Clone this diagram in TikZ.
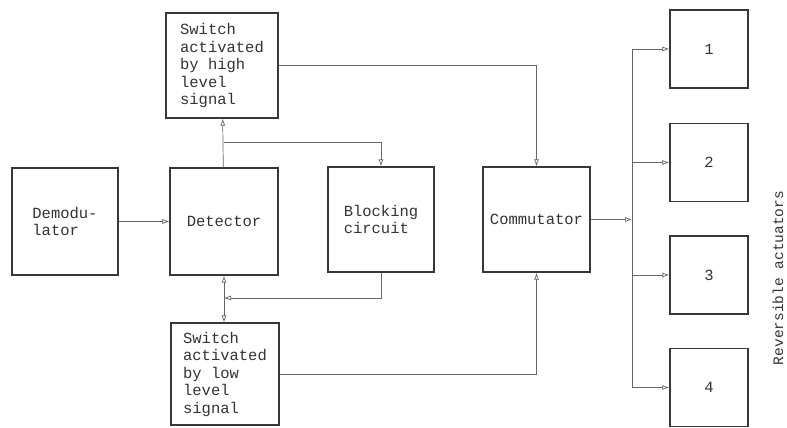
\documentclass[tikz,border=0pt]{standalone}
\usepackage{fontspec}
\setmainfont{Liberation Mono}
\usetikzlibrary{arrows.meta}
\tikzset{
  blk/.style={draw=black!78, line width=1.3pt, rectangle, inner sep=0pt, text=black!80,
    font=\fontsize{15.5}{17.5}\selectfont, align=left},
  act/.style={blk, minimum width=78pt, minimum height=78pt},
  conn/.style={draw=black!60, line width=0.7pt},
  arr/.style={conn, -{Latex[length=7pt,width=5pt,open]}},
}
\begin{document}
\begin{tikzpicture}[x=1pt,y=-1pt]
\useasboundingbox (0,0) rectangle (787,428);
% boxes
\node[blk, minimum width=106pt, minimum height=107pt] (dem) at (65,221.5) {Demodu-\\lator};
\node[blk, minimum width=108pt, minimum height=107pt] (det) at (224,221.5) {Detector};
\node[blk, minimum width=112pt, minimum height=105pt] (swh) at (222,65.5) {Switch\\activated\\by high\\level\\signal};
\node[blk, minimum width=106pt, minimum height=105pt] (blc) at (381,219.5) {Blocking\\circuit};
\node[blk, minimum width=107pt, minimum height=105pt] (com) at (536.5,219.5) {Commutator};
\node[blk, minimum width=108pt, minimum height=102pt] (swl) at (225,374) {Switch\\activated\\by low\\level\\signal};
\node[act] (a1) at (709,49) {1};
\node[act] (a2) at (709,162.5) {2};
\node[act] (a3) at (709,275) {3};
\node[act] (a4) at (709,387.5) {4};
\node[text=black!80, font=\fontsize{14.5}{16}\selectfont, rotate=90] (lab) at (778,278) {Reversible actuators};
% junction coordinates
\coordinate (j1) at (224,142);
\coordinate (j2) at (224,298);
\coordinate (bus) at (632,219.5);
\coordinate (bt) at (632,49);
\coordinate (bb) at (632,387.5);
% connectors
\draw[arr] (dem) -- (det);
\draw[arr] (det) -- (swh);
\draw[arr] (j1) -| (blc.north);
\draw[arr] (swh.east) -| (com.north);
\draw[conn, {Latex[length=7pt,width=5pt,open]}-{Latex[length=7pt,width=5pt,open]}] (det.south) -- (det.south |- swl.north);
\draw[arr] (blc.south) |- (j2);
\draw[arr] (swl.east) -| (com.south);
\draw[arr] (com.east) -- (bus);
\draw[conn] (bt) -- (bb);
\draw[arr] (bt) -- (a1.west);
\draw[arr] (bus |- a2.west) -- (a2.west);
\draw[arr] (bus |- a3.west) -- (a3.west);
\draw[arr] (bb) -- (a4.west);
\end{tikzpicture}
\end{document}
